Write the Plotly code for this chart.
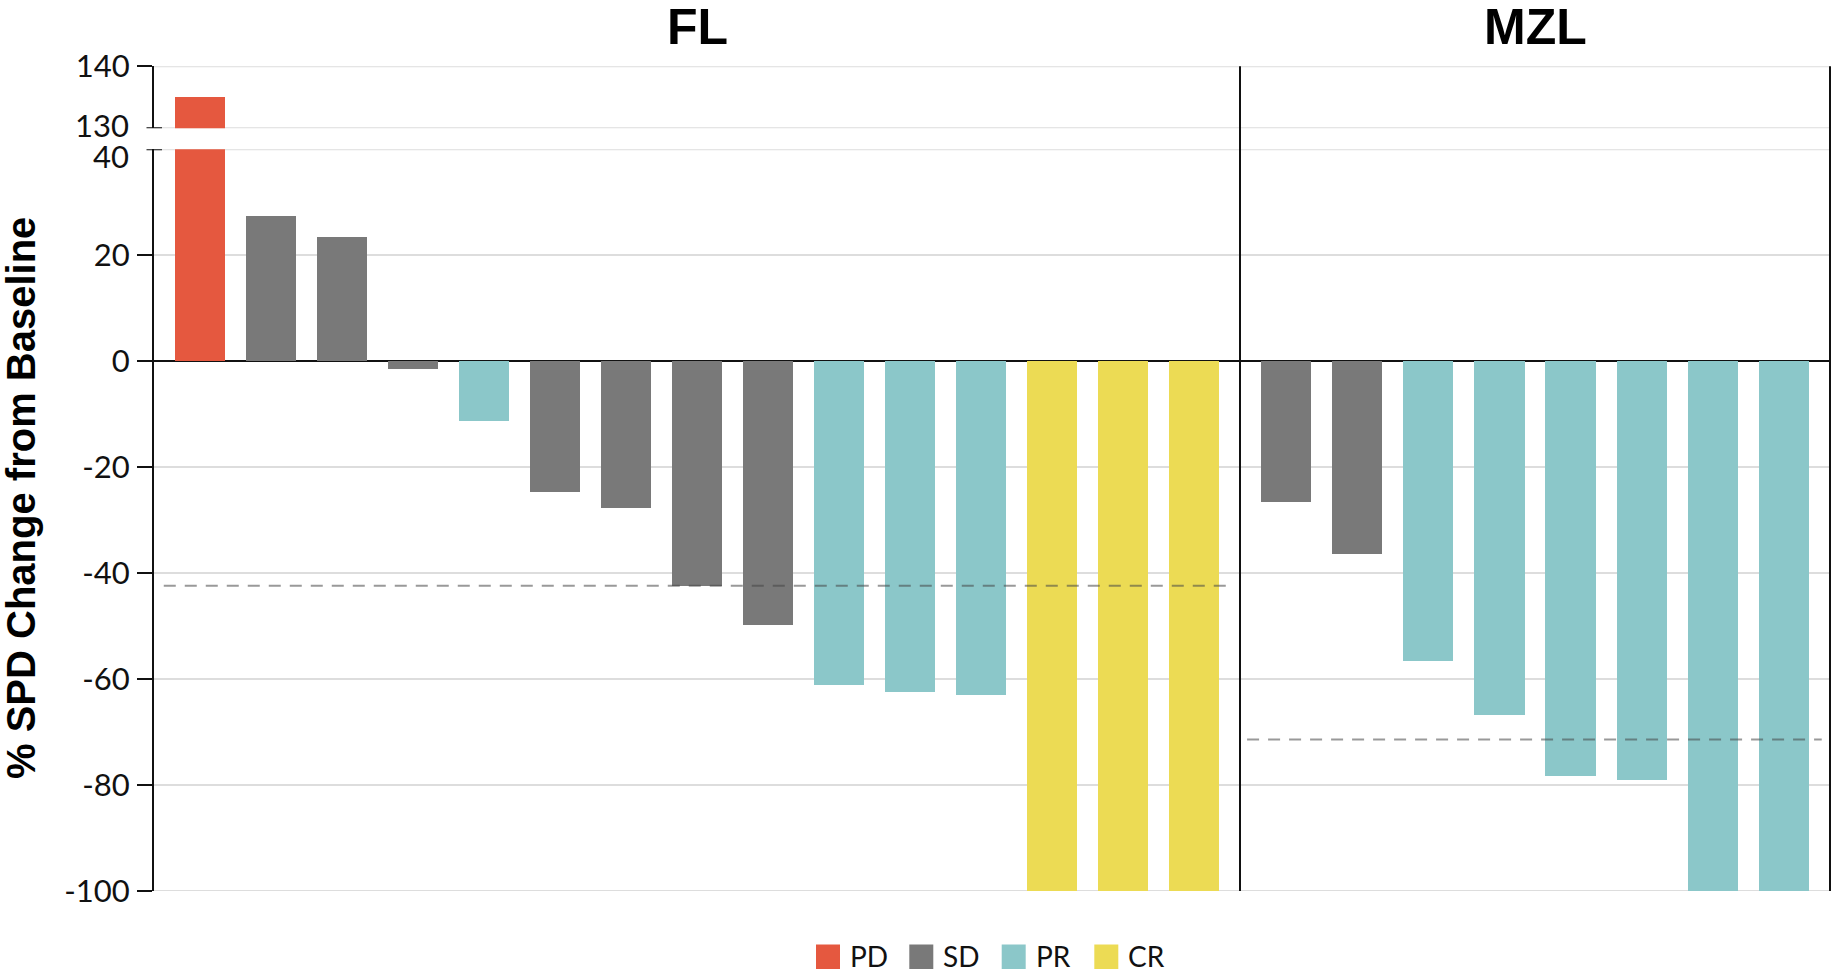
import plotly.graph_objects as go

# % change in SPD from baseline, one bar per patient, ordered as plotted
fl_change = [135, 27.3, 23.4, -1.6, -11.4, -24.7, -27.8, -42.4, -49.8,
             -61.2, -62.4, -63.1, -100, -100, -100]
fl_response = ["PD", "SD", "SD", "SD", "PR", "SD", "SD", "SD", "SD",
               "PR", "PR", "PR", "CR", "CR", "CR"]
mzl_change = [-26.7, -36.4, -56.6, -66.8, -78.4, -79.1, -100, -100]
mzl_response = ["SD", "SD", "PR", "PR", "PR", "PR", "PR", "PR"]

# median reference lines per histology
fl_median = -42.4
mzl_median = -71.4

response_order = ["PD", "SD", "PR", "CR"]
response_colors = {"PD": "#E5583F", "SD": "#797979", "PR": "#8BC7C9", "CR": "#ECDB54"}

panel_titles = ["FL", "MZL"]
upper_ticks = [140, 130]
lower_ticks = [40, 20, 0, -20, -40, -60, -80, -100]

W, H = 1831, 972


def px_x(p):
    return p / W


def px_y(p):
    return 1 - p / H


FL_DOM = [px_x(154), px_x(1240)]
MZL_DOM = [px_x(1240), px_x(1830)]
TOP_DOM = [px_y(128.3), px_y(66.3)]
BOT_DOM = [px_y(891), px_y(149.3)]

fig = go.Figure()

panels = [
    (fl_change, fl_response, "x", "x3"),
    (mzl_change, mzl_response, "x2", "x4"),
]
for vals, resp, xa_low, xa_high in panels:
    colors = [response_colors[r] for r in resp]
    xs = list(range(len(vals)))
    for xa, ya in ((xa_low, "y2"), (xa_high, "y")):
        fig.add_trace(go.Bar(
            x=xs, y=vals, width=0.705,
            marker=dict(color=colors, line=dict(width=0)),
            xaxis=xa, yaxis=ya, showlegend=False, hoverinfo="y",
        ))

tick_font = dict(family="Lato, sans-serif", size=31, color="#111111")
hidden_x = dict(showticklabels=False, showgrid=False, zeroline=False,
                showline=False, ticks="")
fl_range = [-0.65, len(fl_change) - 0.35]
mzl_range = [-0.65, len(mzl_change) - 0.35]

axis_common = dict(showline=True, linecolor="#111111", linewidth=2,
                   showgrid=True, gridcolor="#DDDDDD", gridwidth=2,
                   ticks="outside", ticklen=15, tickwidth=2, tickcolor="#111111",
                   tickfont=tick_font, ticklabelstandoff=1,
                   tickmode="array", fixedrange=True)

# ends of each axis segment next to the break get their own caps and labels
upper_axis_ticks = upper_ticks[:1]
lower_axis_ticks = lower_ticks[1:]

fig.update_layout(
    width=W, height=H,
    margin=dict(l=0, r=0, t=0, b=0, autoexpand=False),
    paper_bgcolor="white", plot_bgcolor="white",
    showlegend=False, bargap=0,
    xaxis=dict(domain=FL_DOM, range=fl_range, anchor="y2", **hidden_x),
    xaxis2=dict(domain=MZL_DOM, range=mzl_range, anchor="y2", **hidden_x),
    xaxis3=dict(domain=FL_DOM, range=fl_range, anchor="y", **hidden_x),
    xaxis4=dict(domain=MZL_DOM, range=mzl_range, anchor="y", **hidden_x),
    yaxis=dict(domain=TOP_DOM, range=[130, 140], anchor="x3",
               tickvals=upper_axis_ticks,
               ticktext=[str(v) for v in upper_axis_ticks],
               zeroline=False, **axis_common),
    yaxis2=dict(domain=BOT_DOM, range=[-100, 40], anchor="x",
                tickvals=lower_axis_ticks,
                ticktext=[str(v) for v in lower_axis_ticks],
                zeroline=True, zerolinecolor="#111111",
                zerolinewidth=2, **axis_common),
)

shapes = []
annotations = []

# gridlines at the ends of each axis segment
for val, yref in ((140, "y"), (130, "y"), (40, "y2"), (-100, "y2")):
    shapes.append(dict(type="line", xref="paper", yref=yref, layer="below",
                       x0=FL_DOM[0], x1=MZL_DOM[1], y0=val, y1=val,
                       line=dict(color="#DDDDDD", width=2)))

# axis-break caps with their labels
for val, yref, label_y in ((130, "y", 124.5), (40, "y2", 156)):
    shapes.append(dict(type="line", xref="paper", yref=yref,
                       x0=px_x(146.5), x1=px_x(162), y0=val, y1=val,
                       line=dict(color="#111111", width=2)))
    annotations.append(dict(text=str(val), xref="paper", yref="paper",
                            x=px_x(131), y=px_y(label_y), xanchor="right",
                            yanchor="middle", showarrow=False, font=tick_font))

# panel divider and right border
for xpix in (1240, 1830):
    shapes.append(dict(type="line", xref="paper", yref="paper",
                       x0=px_x(xpix), x1=px_x(xpix), y0=px_y(891), y1=px_y(66.3),
                       line=dict(color="#111111", width=2)))

# median lines
for xa, med, x0, x1 in (("x", fl_median, 0.009, 0.9925),
                        ("x2", mzl_median, 0.012, 0.986)):
    shapes.append(dict(type="line", xref=f"{xa} domain", yref="y2",
                       x0=x0, x1=x1, y0=med, y1=med, layer="above",
                       line=dict(color="rgba(70,70,70,0.55)", width=2,
                                 dash="12px,9px")))

title_font = dict(family="Liberation Sans, Arial, sans-serif", size=50,
                  color="black", weight="bold")
for title, dom in zip(panel_titles, (FL_DOM, MZL_DOM)):
    annotations.append(dict(text=title, xref="paper", yref="paper",
                            x=(dom[0] + dom[1]) / 2, y=px_y(27),
                            xanchor="center", yanchor="middle",
                            showarrow=False, font=title_font))

annotations.append(dict(text="% SPD Change from Baseline", xref="paper", yref="paper",
                        x=px_x(21), y=px_y(498), textangle=-90,
                        xanchor="center", yanchor="middle", showarrow=False,
                        font=dict(family="Liberation Sans, Arial, sans-serif",
                                  size=40, color="black", weight="bold")))

# legend: colour swatch + label per response category
legend_x = {"PD": 816, "SD": 909.3, "PR": 1001.7, "CR": 1094.3}
for name in response_order:
    x0 = legend_x[name]
    shapes.append(dict(type="rect", xref="paper", yref="paper",
                       x0=px_x(x0), x1=px_x(x0 + 24), y0=px_y(969), y1=px_y(944.5),
                       fillcolor=response_colors[name], line=dict(width=0)))
    annotations.append(dict(text=name, xref="paper", yref="paper",
                            x=px_x(x0 + 32), y=px_y(956), xanchor="left",
                            yanchor="middle", showarrow=False,
                            font=dict(family="Lato, sans-serif", size=28,
                                      color="#111111")))

fig.update_layout(shapes=shapes, annotations=annotations)

fig.write_html("out.html")
